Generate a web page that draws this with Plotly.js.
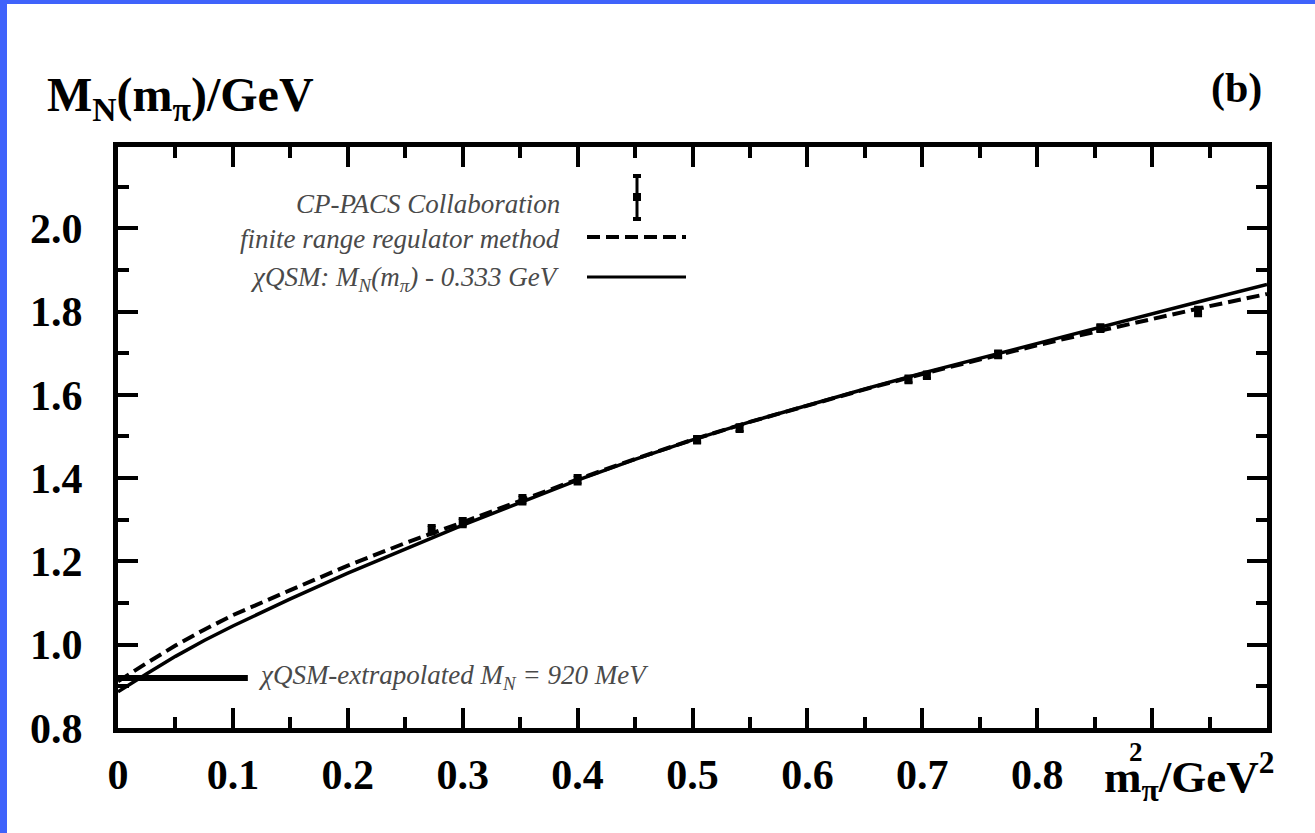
<!DOCTYPE html>
<html>
<head>
<meta charset="utf-8">
<script src="https://cdn.plot.ly/plotly-3.0.1.min.js"></script>
<style>
  html, body { margin: 0; padding: 0; background: #ffffff; }
  #chart { width: 1315px; height: 833px; position: absolute; left: 0; top: 0; }
  .bl { position: absolute; left: 0; top: 0; width: 7px; height: 833px; background: #3f63fb; }
  .bt { position: absolute; left: 0; top: 0; width: 1315px; height: 4px; background: #3f63fb; }
</style>
</head>
<body>
<div id="chart"></div>
<div class="bl"></div>
<div class="bt"></div>
<script>
// m_pi^2 / GeV^2 sample points for the curves
const curveX = [0, 0.01, 0.025, 0.05, 0.075, 0.1, 0.125, 0.15, 0.2, 0.25, 0.3, 0.35, 0.4, 0.45, 0.5, 0.55, 0.6, 0.65, 0.7, 0.75, 0.8, 0.85, 0.9, 0.95, 1.0];
// chiQSM: M_N(m_pi) - 0.333 GeV (solid)
const chiQSM = [0.887, 0.905, 0.930, 0.972, 1.010, 1.045, 1.078, 1.110, 1.172, 1.230, 1.287, 1.341, 1.395, 1.445, 1.492, 1.535, 1.575, 1.614, 1.652, 1.688, 1.724, 1.760, 1.795, 1.830, 1.865];
// finite range regulator method (dashed)
const frr = [0.912, 0.930, 0.956, 0.998, 1.036, 1.071, 1.102, 1.131, 1.190, 1.244, 1.294, 1.346, 1.397, 1.446, 1.492, 1.535, 1.575, 1.613, 1.650, 1.685, 1.719, 1.751, 1.783, 1.813, 1.842];
// CP-PACS Collaboration lattice data
const cpX = [0.273, 0.300, 0.352, 0.400, 0.504, 0.541, 0.688, 0.704, 0.766, 0.855, 0.940];
const cpY = [1.276, 1.293, 1.348, 1.396, 1.492, 1.520, 1.637, 1.647, 1.697, 1.760, 1.800];
const cpErr = [0.010, 0.010, 0.010, 0.010, 0.008, 0.008, 0.008, 0.008, 0.008, 0.008, 0.010];

// axis ticks
const xTickVals = [0, 0.1, 0.2, 0.3, 0.4, 0.5, 0.6, 0.7, 0.8, 0.9, 1.0];
const xTickText = ["0", "0.1", "0.2", "0.3", "0.4", "0.5", "0.6", "0.7", "0.8", "", ""];
const yTickVals = [0.8, 1.0, 1.2, 1.4, 1.6, 1.8, 2.0];
const yTickText = ["0.8", "1.0", "1.2", "1.4", "1.6", "1.8", "2.0"];

// extrapolated value
const extrapM = 0.92;
const extrapLineEnd = 0.113;

const serif = "Liberation Serif, Times New Roman, serif";

const traces = [
  { x: curveX, y: frr, type: "scatter", mode: "lines",
    line: { color: "#000", width: 4, dash: "13px,6px" }, hoverinfo: "skip" },
  { x: curveX, y: chiQSM, type: "scatter", mode: "lines",
    line: { color: "#000", width: 3.5 }, hoverinfo: "skip" },
  { x: cpX, y: cpY, type: "scatter", mode: "markers",
    marker: { symbol: "square", size: 8, color: "#000" },
    error_y: { type: "data", array: cpErr, color: "#000", thickness: 3, width: 4 } }
];

const legTextFont = { family: serif, size: 27, color: "#4a4a4a" };
const px = v => (v - 118) / 1149;
const py = v => (728 - v) / 581;

const layout = {
  width: 1315, height: 833,
  margin: { l: 118, r: 48, t: 147, b: 105 },
  paper_bgcolor: "#fff", plot_bgcolor: "#fff",
  showlegend: false,
  xaxis: {
    range: [0, 1.0], tickmode: "array", tickvals: xTickVals, ticktext: xTickText,
    ticks: "inside", ticklen: 20, tickwidth: 4, tickcolor: "#000",
    minor: { dtick: 0.05, tick0: 0, ticks: "inside", ticklen: 11, tickwidth: 4, tickcolor: "#000", showgrid: false },
    showline: true, linewidth: 5, linecolor: "#000", mirror: "ticks",
    showgrid: false, zeroline: false,
    ticklabelstandoff: 6,
    tickfont: { family: serif, size: 42, color: "#000", weight: "bold" }
  },
  yaxis: {
    range: [0.8, 2.195], tickmode: "array", tickvals: yTickVals, ticktext: yTickText,
    ticks: "inside", ticklen: 20, tickwidth: 4, tickcolor: "#000",
    minor: { dtick: 0.1, tick0: 0.8, ticks: "inside", ticklen: 11, tickwidth: 4, tickcolor: "#000", showgrid: false },
    showline: true, linewidth: 5, linecolor: "#000", mirror: "ticks",
    showgrid: false, zeroline: false,
    ticklabelstandoff: 22,
    tickfont: { family: serif, size: 42, color: "#000", weight: "bold" }
  },
  shapes: [
    { type: "line", xref: "x", yref: "y", x0: 0, x1: extrapLineEnd, y0: extrapM, y1: extrapM,
      line: { color: "#000", width: 6 } },
    // legend samples
    { type: "line", xref: "paper", yref: "paper", x0: px(637), x1: px(637), y0: py(176), y1: py(219), line: { color: "#000", width: 3 } },
    { type: "line", xref: "paper", yref: "paper", x0: px(633), x1: px(641), y0: py(176), y1: py(176), line: { color: "#000", width: 4 } },
    { type: "line", xref: "paper", yref: "paper", x0: px(633), x1: px(641), y0: py(219), y1: py(219), line: { color: "#000", width: 4 } },
    { type: "rect", xref: "paper", yref: "paper", x0: px(633), x1: px(641), y0: py(193), y1: py(201), fillcolor: "#000", line: { width: 0 } },
    { type: "line", xref: "paper", yref: "paper", x0: px(587), x1: px(686), y0: py(237), y1: py(237), line: { color: "#000", width: 4, dash: "13px,6px" } },
    { type: "line", xref: "paper", yref: "paper", x0: px(587), x1: px(686), y0: py(277), y1: py(277), line: { color: "#000", width: 3 } }
  ],
  annotations: [
    { text: "M<sub>N</sub>(m<sub>π</sub>)/GeV", xref: "paper", yref: "paper", x: px(45), y: py(98),
      xanchor: "left", yanchor: "middle", showarrow: false,
      font: { family: serif, size: 48, color: "#000", weight: "bold" } },
    { text: "(b)", xref: "paper", yref: "paper", x: px(1264), y: py(88),
      xanchor: "right", yanchor: "middle", showarrow: false,
      font: { family: serif, size: 42, color: "#000", weight: "bold" } },
    { text: "m<sub>π</sub>/GeV<sup>2</sup>", xref: "paper", yref: "paper", x: px(1102), y: py(776),
      xanchor: "left", yanchor: "middle", showarrow: false,
      font: { family: serif, size: 45, color: "#000", weight: "bold" } },
    { text: "2", xref: "paper", yref: "paper", x: px(1136), y: py(752),
      xanchor: "center", yanchor: "middle", showarrow: false,
      font: { family: serif, size: 27, color: "#000", weight: "bold" } },
    { text: "<i>CP-PACS Collaboration</i>", xref: "paper", yref: "paper", x: px(562), y: py(204),
      xanchor: "right", yanchor: "middle", showarrow: false, font: legTextFont },
    { text: "<i>finite range regulator method</i>", xref: "paper", yref: "paper", x: px(562), y: py(239),
      xanchor: "right", yanchor: "middle", showarrow: false, font: legTextFont },
    { text: "<i>χQSM: M<sub>N</sub>(m<sub>π</sub>) - 0.333 GeV</i>", xref: "paper", yref: "paper", x: px(562), y: py(279),
      xanchor: "right", yanchor: "middle", showarrow: false, font: legTextFont },
    { text: "<i>χQSM-extrapolated M<sub>N</sub> = 920 MeV</i>", xref: "paper", yref: "paper", x: px(256), y: py(677),
      xanchor: "left", yanchor: "middle", showarrow: false, font: legTextFont }
  ]
};

Plotly.newPlot("chart", traces, layout, { displayModeBar: false, staticPlot: true });
</script>
</body>
</html>
